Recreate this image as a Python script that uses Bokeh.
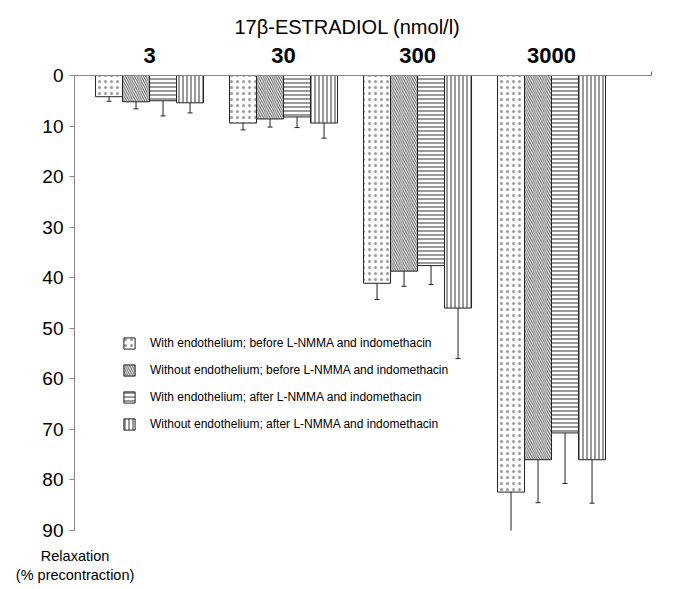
from bokeh.plotting import figure
from bokeh.models import Range1d, FixedTicker, Whisker, ColumnDataSource, TeeHead, LinearAxis
from bokeh.embed import file_html
from bokeh.resources import INLINE

# ---- data ----
groups = ["3", "30", "300", "3000"]
series = [
    "With endothelium; before L-NMMA and indomethacin",
    "Without endothelium; before L-NMMA and indomethacin",
    "With endothelium; after L-NMMA and indomethacin",
    "Without endothelium; after L-NMMA and indomethacin",
]
with_endo_before = [4.2, 9.4, 41.1, 82.4]
without_endo_before = [5.2, 8.6, 38.7, 76.0]
with_endo_after = [5.0, 8.2, 37.6, 70.7]
without_endo_after = [5.4, 9.4, 46.0, 76.0]

err_with_endo_before = [0.9, 1.35, 3.2, 8.6]
err_without_endo_before = [1.4, 1.6, 3.0, 8.5]
err_with_endo_after = [3.0, 2.1, 3.75, 10.0]
err_without_endo_after = [2.0, 3.0, 10.0, 8.6]

y_ticks = [0, 10, 20, 30, 40, 50, 60, 70, 80, 90]
y_label = "Relaxation\n(% precontraction)"

values = [with_endo_before, without_endo_before, with_endo_after, without_endo_after]
errors = [err_with_endo_before, err_without_endo_before, err_with_endo_after, err_without_endo_after]

FONT = "Liberation Sans"
bar_w = 0.2015
x_start, x_end = -0.56, 3.746

p = figure(
    output_backend="svg", toolbar_location=None,
    frame_width=577, frame_height=455,
    min_border_left=74, min_border_top=75, min_border_right=20, min_border_bottom=56,
    x_range=Range1d(x_start, x_end), y_range=Range1d(90, 0),
    x_axis_location="above",
)
p.outline_line_color = None
p.grid.visible = False

p.title.text = "17β-ESTRADIOL (nmol/l)"
p.title.text_font = FONT
p.title.text_font_style = "normal"
p.title.text_font_size = "20px"
p.title.text_color = "black"
p.title.align = "left"
p.title.offset = 160
p.title.standoff = 14

styles = [
    dict(hatch_pattern="dot", hatch_scale=6, hatch_weight=0.6, hatch_color="#9a9a9a"),
    dict(hatch_pattern="left_diagonal_line", hatch_scale=4.5, hatch_weight=1, hatch_color="#5a5a5a"),
    dict(hatch_pattern="horizontal_line", hatch_scale=4, hatch_weight=1, hatch_color="#333333"),
    dict(hatch_pattern="vertical_line", hatch_scale=4, hatch_weight=1, hatch_color="#333333"),
]

for k in range(4):
    xs = [i + (k - 1.5) * bar_w for i in range(len(groups))]
    src = ColumnDataSource(dict(
        x=xs, top=[0] * len(xs), bottom=values[k],
        upper=[v + e for v, e in zip(values[k], errors[k])],
        lower=[v - e for v, e in zip(values[k], errors[k])],
    ))
    p.vbar(x="x", top="top", bottom="bottom", width=bar_w, source=src,
           fill_color="white", line_color="#222222", line_width=1,
           legend_label=series[k], **styles[k])
    w = Whisker(base="x", upper="upper", lower="lower", source=src, dimension="height",
                line_color="#222222", line_width=1,
                upper_head=TeeHead(size=5, line_color="#222222", line_width=1),
                lower_head=TeeHead(size=5, line_color="#222222", line_width=1))
    p.add_layout(w)

# top axis with group labels
xa = p.xaxis[0]
xa.ticker = FixedTicker(ticks=list(range(len(groups))), minor_ticks=[x_end])
xa.major_label_overrides = {i: g for i, g in enumerate(groups)}
xa.major_tick_line_color = None
xa.major_tick_out = 0
xa.minor_tick_out = 4
xa.minor_tick_in = 0
xa.minor_tick_line_color = "#666666"
xa.axis_line_color = "#888888"
xa.major_label_text_font = FONT
xa.major_label_text_font_style = "bold"
xa.major_label_text_font_size = "22px"
xa.major_label_text_color = "black"
xa.major_label_standoff = 9

ya = p.yaxis[0]
ya.ticker = FixedTicker(ticks=y_ticks, minor_ticks=[])
ya.major_tick_out = 5
ya.major_tick_in = 0
ya.axis_line_color = "#888888"
ya.major_tick_line_color = "#888888"
ya.major_label_text_font = FONT
ya.major_label_text_font_size = "19px"
ya.major_label_text_color = "black"
ya.major_label_standoff = 6

# y-axis caption below the axis foot, drawn as a tick label of a helper axis
p.extra_x_ranges = {"cap": Range1d(0, 1)}
cap = LinearAxis(x_range_name="cap", ticker=FixedTicker(ticks=[0.001], minor_ticks=[]),
                 major_label_overrides={0.001: y_label})
cap.axis_line_color = None
cap.major_tick_line_color = None
cap.major_tick_out = 0
cap.major_tick_in = 0
cap.major_label_standoff = 17
cap.major_label_text_font = FONT
cap.major_label_text_font_size = "14.5px"
cap.major_label_text_color = "black"
p.add_layout(cap, "below")

lg = p.legend[0]
lg.location = (48, 99)
lg.border_line_color = None
lg.background_fill_alpha = 0
lg.padding = 0
lg.margin = 0
lg.spacing = 13
lg.glyph_width = 14
lg.glyph_height = 14
lg.label_height = 14
lg.label_standoff = 14
lg.label_text_font = FONT
lg.label_text_font_size = "12px"
lg.label_text_color = "black"
lg.label_text_baseline = "middle"

open("out.html", "w").write(file_html(p, INLINE))
